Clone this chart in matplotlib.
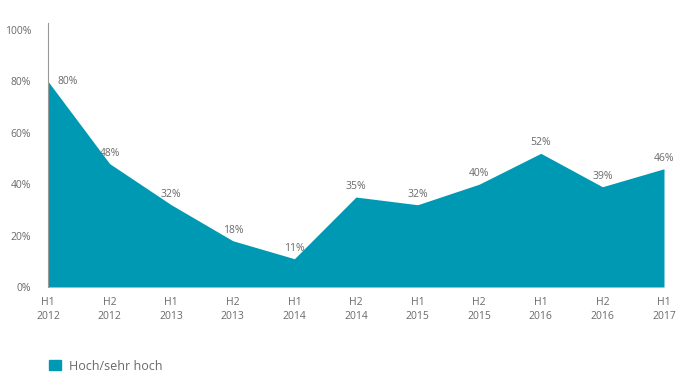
import matplotlib
matplotlib.use("Agg")
import matplotlib.pyplot as plt
from matplotlib.patches import Patch

# DATA
periods = ["H1\n2012", "H2\n2012", "H1\n2013", "H2\n2013", "H1\n2014", "H2\n2014",
           "H1\n2015", "H2\n2015", "H1\n2016", "H2\n2016", "H1\n2017"]
values = [80, 48, 32, 18, 11, 35, 32, 40, 52, 39, 46]
yticks = [0, 20, 40, 60, 80, 100]
series_name = "Hoch/sehr hoch"

teal = "#0099b3"
grey = "#6a6a6a"

plt.rcParams["font.family"] = ["Open Sans", "DejaVu Sans"]

fig = plt.figure(figsize=(7, 3.86), dpi=100)
ax = fig.add_axes([48 / 700, 99 / 386, 616 / 700, 264 / 386])

x = list(range(len(values)))
ax.fill_between(x, values, 0, color=teal, linewidth=0)

ax.set_xlim(0, len(values) - 1)
ax.set_ylim(0, 102.7)

# value labels
for i, v in enumerate(values):
    if i == 0:
        ax.annotate(f"{v}%", (i, v), xytext=(7, 0), textcoords="offset points",
                    ha="left", va="center", fontsize=7.5, color=grey)
    else:
        ax.annotate(f"{v}%", (i, v), xytext=(0, 3.5), textcoords="offset points",
                    ha="center", va="bottom", fontsize=7.5, color=grey)

ax.set_xticks(x)
ax.set_xticklabels(periods, fontsize=7.5, color=grey, linespacing=1.4)
ax.set_yticks(yticks)
ax.set_yticklabels([f"{t}%" for t in yticks], fontsize=7.5, color=grey)
ax.tick_params(axis="both", length=0)
ax.tick_params(axis="y", pad=12)
ax.tick_params(axis="x", pad=7)

for s in ["top", "right", "bottom"]:
    ax.spines[s].set_visible(False)
ax.spines["left"].set_color("#999999")
ax.spines["left"].set_linewidth(0.8)

fig.legend(handles=[Patch(color=teal, label=series_name)], loc="center left",
           bbox_to_anchor=(38 / 700, 1 - 366 / 386), frameon=False,
           handlelength=0.9, handleheight=0.9, handletextpad=0.7,
           fontsize=9, labelcolor=grey)

fig.savefig("out.png", dpi=100)
